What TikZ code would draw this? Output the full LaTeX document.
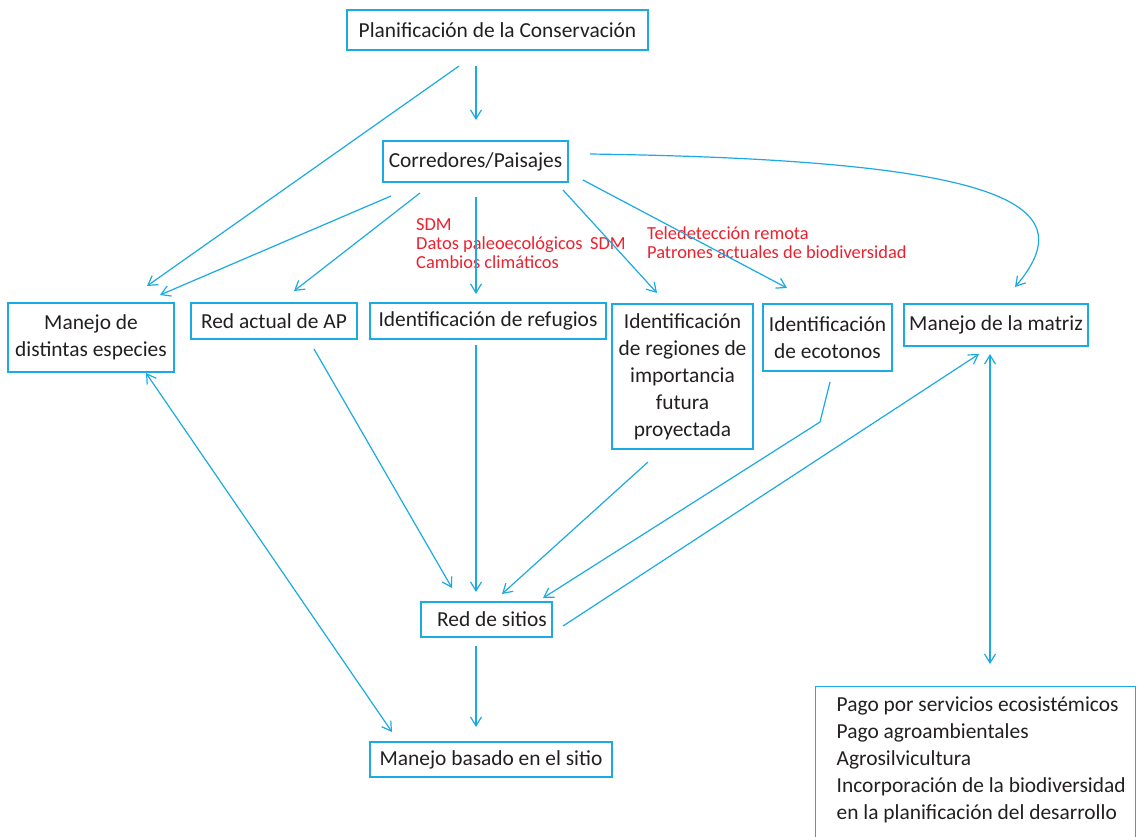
\documentclass[tikz,border=0pt]{standalone}
\usepackage{fontspec}
\setmainfont{Carlito}
\usetikzlibrary{arrows.meta}
\definecolor{cyanline}{RGB}{27,170,226}
\definecolor{notered}{RGB}{237,32,45}
\definecolor{ink}{RGB}{35,31,32}
\tikzset{
  box/.style={draw=cyanline, line width=1.4pt, text=ink, inner sep=0pt, align=center,
    font=\fontsize{21.4}{27}\selectfont},
  link/.style={cyanline, line width=1.2pt, -{Straight Barb[length=9pt,width=11pt]}},
  twoway/.style={link, {Straight Barb[length=9pt,width=11pt]}-{Straight Barb[length=9pt,width=11pt]}},
  note/.style={text=notered, inner sep=0pt, align=left, anchor=west,
    font=\fontsize{18.4}{19}\selectfont}
}
\begin{document}
\begin{tikzpicture}[x=1pt, y=-1pt]
    \useasboundingbox (0,0) rectangle (1139,836);
    \clip (0,0) rectangle (1139,836);
    % Boxes
    \node [box, minimum width=301pt, minimum height=40pt] (plan) at (497.5,30) {Planificación de la Conservación};
    \node [box, minimum width=185pt, minimum height=41pt] (corr) at (475.5,161.5) {Corredores/Paisajes};
    \node [box, minimum width=166pt, minimum height=69pt] (especies) at (91,337.5) {Manejo de\\distintas especies};
    \node [box, minimum width=166pt, minimum height=36pt] (redap) at (274,321) {Red actual de AP};
    \node [box, minimum width=236pt, minimum height=36pt] (refugios) at (488,321) {Identificación de refugios};
    \node [box, minimum width=141pt, minimum height=145pt] (regiones) at (682.5,376.5) {Identificación\\de regiones de\\importancia\\futura\\proyectada};
    \node [box, minimum width=129pt, minimum height=67pt] (ecotonos) at (827.5,337.5) {Identificación\\de ecotonos};
    \node [box, minimum width=184pt, minimum height=42pt] (matriz) at (996,325) {Manejo de la matriz};
    \node [box, minimum width=131pt, minimum height=35pt] (sitios) at (486.5,619.5) {\hspace*{11pt}Red de sitios};
    \node [box, minimum width=242pt, minimum height=35pt] (msitio) at (491,759.5) {Manejo basado en el sitio};
    \node [box, minimum width=320pt, minimum height=170pt, anchor=north west] (pago) at (815,686) {};
    \node [box, draw=none, align=left, anchor=north west] (pagotxt) at (836,696.5)
      {Pago por servicios ecosistémicos\\Pago agroambientales\\Agrosilvicultura\\Incorporación de la biodiversidad\\en la planificación del desarrollo};
    % Red notes
    \node [note] (notesdm) at (416,244) {SDM\\Datos paleoecológicos\\Cambios climáticos};
    \node [note] (notesdmb) at (590,244) {SDM};
    \node [note] (notetele) at (647,242.5) {Teledetección remota\\Patrones actuales de biodiversidad};
    % Arrow ends
    \coordinate (plana) at (476,66);
    \coordinate (planb) at (459,66);
    \coordinate (corrin) at (476,120);
    \coordinate (espin) at (147,286);
    \coordinate (espinb) at (160,295);
    \coordinate (corra) at (391,196);
    \coordinate (corrb) at (420,193);
    \coordinate (corrc) at (476,197);
    \coordinate (corrd) at (563,190);
    \coordinate (corre) at (583,180);
    \coordinate (corrf) at (590,154);
    \coordinate (redapin) at (294,291);
    \coordinate (refin) at (476,294);
    \coordinate (regin) at (657,293);
    \coordinate (ecoin) at (787,288);
    \coordinate (matin) at (1015,287);
    \coordinate (redapout) at (314,349);
    \coordinate (refout) at (476,345);
    \coordinate (regout) at (648,462);
    \coordinate (ecoout) at (830,382);
    \coordinate (ecobend) at (820,422);
    \coordinate (sitina) at (452,588);
    \coordinate (sitinb) at (476,592);
    \coordinate (sitinc) at (502,594);
    \coordinate (sitind) at (543,598);
    \coordinate (sitouta) at (563,626);
    \coordinate (sitoutb) at (476,646);
    \coordinate (matinb) at (979,354);
    \coordinate (matout) at (990,354);
    \coordinate (pagoin) at (990,664);
    \coordinate (espout) at (146,373);
    \coordinate (msitioin) at (392,732);
    \coordinate (msitioinb) at (476,727);
    % Connectors
    \draw [link] (plana) -- (corrin);
    \draw [link] (planb) -- (espin);
    \draw [link] (corra) -- (espinb);
    \draw [link] (corrb) -- (redapin);
    \draw [link] (corrc) -- (refin);
    \draw [link] (corrd) -- (regin);
    \draw [link] (corre) -- (ecoin);
    \draw [link] (corrf) .. controls (1010,160) and (1085,205) .. (matin);
    \draw [link] (redapout) -- (sitina);
    \draw [link] (refout) -- (sitinb);
    \draw [link] (regout) -- (sitinc);
    \draw [link] (ecoout) -- (ecobend) -- (sitind);
    \draw [link] (sitouta) -- (matinb);
    \draw [twoway] (matout) -- (pagoin);
    \draw [twoway] (espout) -- (msitioin);
    \draw [link] (sitoutb) -- (msitioinb);
\end{tikzpicture}
\end{document}
